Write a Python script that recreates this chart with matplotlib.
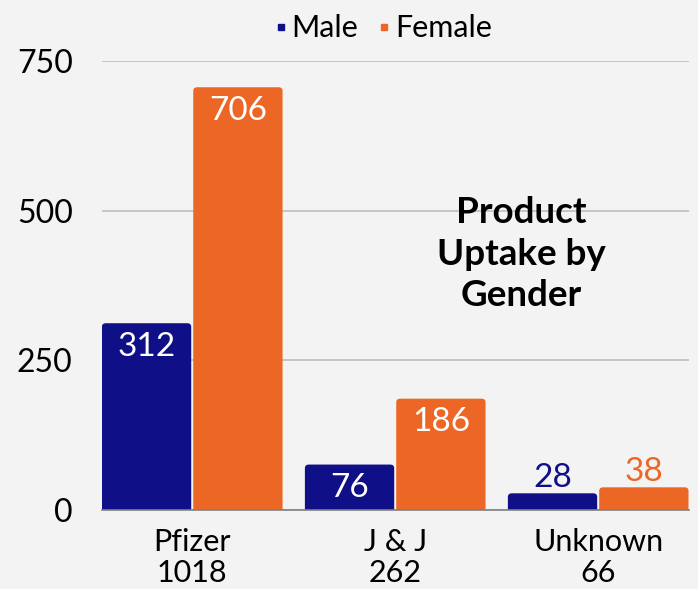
import matplotlib
matplotlib.use("Agg")
import matplotlib.pyplot as plt
from matplotlib.patches import FancyBboxPatch
from matplotlib.lines import Line2D
import numpy as np

categories = ["Pfizer", "J & J", "Unknown"]
totals = [1018, 262, 66]
male = [312, 76, 28]
female = [706, 186, 38]
yticks = [0, 250, 500, 750]

MALE_C = "#0F0F87"
FEMALE_C = "#EC6625"
BG = "#F3F3F3"
FONT = ["Lato", "DejaVu Sans"]
plt.rcParams["font.family"] = FONT

fig = plt.figure(figsize=(6.98, 5.89), dpi=100, facecolor=BG)
ax = fig.add_axes([0.146, 0.134, 0.841, 0.7626], facecolor=BG)

x = np.arange(len(categories))
w = 0.44
off = 0.225
bm = ax.bar(x - off, male, w, color=MALE_C, label="Male", zorder=3)
bf = ax.bar(x + off, female, w, color=FEMALE_C, label="Female", zorder=3)

ax.set_xlim(-0.445, 2.447)
ax.set_ylim(0, 750)

# rounded tops
for bars in (bm, bf):
    for b in bars:
        b.set_visible(False)
        p = FancyBboxPatch((b.get_x(), -20), b.get_width(), b.get_height() + 20,
                           boxstyle="round,pad=0,rounding_size=0.02",
                           mutation_aspect=300, facecolor=b.get_facecolor(),
                           edgecolor="none", zorder=3, clip_on=True)
        ax.add_patch(p)

# value labels
for bars, vals, col in ((bm, male, MALE_C), (bf, female, FEMALE_C)):
    for b, v in zip(bars, vals):
        cx = b.get_x() + b.get_width() / 2
        if v > 60:
            ax.annotate(str(v), (cx, v), xytext=(0, -17), textcoords="offset points",
                        ha="center", va="center", color="white", fontsize=24, zorder=4)
        else:
            ax.annotate(str(v), (cx, v), xytext=(0, 11), textcoords="offset points",
                        ha="center", va="center", color=col, fontsize=24, zorder=4)

ax.set_yticks(yticks)
ax.set_yticklabels([str(t) for t in yticks], fontsize=23)
ax.set_xticks(x)
ax.set_xticklabels([f"{c}\n{t}" for c, t in zip(categories, totals)], fontsize=22,
                   linespacing=1.12)
ax.tick_params(axis="both", length=0)
ax.tick_params(axis="x", pad=13)
ax.tick_params(axis="y", pad=21)
for lab in ax.get_yticklabels():
    lab.set_horizontalalignment("right")

ax.grid(axis="y", color="#BDBDBD", linewidth=1.2, zorder=0)
for s in ("top", "right", "left"):
    ax.spines[s].set_visible(False)
ax.spines["bottom"].set_color("#808080")
ax.spines["bottom"].set_linewidth(1.2)
ax.spines["bottom"].set_zorder(5)

ax.text(0.714, 0.57, "Product\nUptake by\nGender", transform=ax.transAxes,
        ha="center", va="center", fontsize=26.5, fontweight="bold", linespacing=1.3,
        zorder=6)

handles = [Line2D([], [], marker="s", linestyle="none", color=MALE_C, markersize=4.5),
           Line2D([], [], marker="s", linestyle="none", color=FEMALE_C, markersize=4.5)]
leg = fig.legend(handles=handles, labels=["Male", "Female"], loc="center",
                 bbox_to_anchor=(0.55, 0.952), ncol=2, frameon=False, fontsize=22,
                 handlelength=0.3, handletextpad=0.2, columnspacing=0.7)

fig.savefig("out.png", dpi=100, facecolor=BG)
